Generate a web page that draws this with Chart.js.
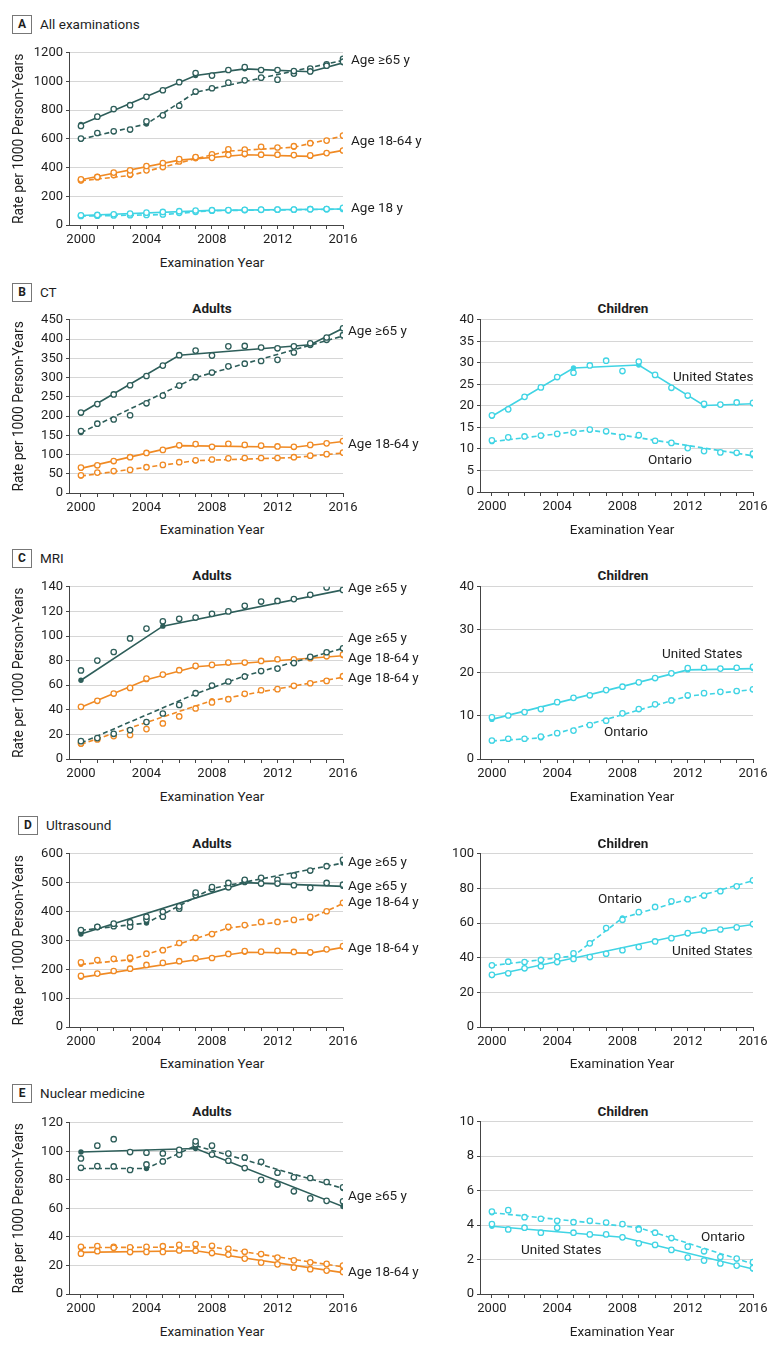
<!DOCTYPE html>
<html>
<head>
<meta charset="utf-8">
<script src="https://cdn.jsdelivr.net/npm/chart.js@4.4.0/dist/chart.umd.min.js"></script>
<style>
    body { margin: 0; background: #fff; }
    #page { position: relative; width: 780px; height: 1349px; overflow: hidden; font-family: Roboto, sans-serif; color: #1e1e1e; }
    #page canvas { position: absolute; }
    .txt { position: absolute; font-size: 13.5px; line-height: 16px; white-space: nowrap; transform: translateY(-50%); }
    .ctr { transform: translate(-50%, -50%); }
    .bold { font-weight: bold; }
    .box { position: absolute; width: 18px; height: 17px; border: 1px solid #777; font-weight: bold; font-size: 12px; line-height: 17px; text-align: center; }
</style>
</head>
<body>
<div id="page"></div>
<script>
// Yillar (x ekseni)
const years = [2000, 2001, 2002, 2003, 2004, 2005, 2006, 2007, 2008, 2009, 2010, 2011, 2012, 2013, 2014, 2015, 2016];

// --- A: All examinations ---
const aOldUs = [690, 755, 808, 835, 893, 939, 995, 1059, 1041, 1080, 1100, 1080, 1080, 1073, 1070, 1110, 1138];
const aOldOn = [602, 641, 653, 665, 722, 764, 831, 930, 953, 992, 1008, 1027, 1013, 1055, 1090, 1119, 1158];
const aOldUsFitX = [2000, 2007, 2010, 2014, 2016];
const aOldUsFit = [700, 1042, 1088, 1068, 1130];
const aOldOnFitX = [2000, 2004, 2007, 2016];
const aOldOnFit = [598, 704, 925, 1147];
const aAdultUs = [318, 335, 365, 381, 411, 432, 459, 473, 468, 489, 496, 490, 490, 487, 485, 501, 519];
const aAdultOn = [311, 333, 348, 353, 381, 404, 443, 470, 492, 528, 525, 545, 540, 549, 570, 588, 623];
const aAdultUsFitX = [2000, 2006, 2010, 2014, 2016];
const aAdultUsFit = [315, 452, 490, 478, 520];
const aAdultOnFitX = [2000, 2003, 2007, 2009, 2013, 2016];
const aAdultOnFit = [308, 345, 462, 515, 542, 620];
const aChildUs = [68, 70, 75, 80, 86, 91, 96, 101, 103, 104, 106, 107, 108, 108, 110, 111, 120];
const aChildOn = [63, 65, 67, 68, 70, 73, 85, 92, 100, 102, 104, 106, 107, 107, 110, 110, 112];
const aChildUsFitX = [2000, 2008, 2016];
const aChildUsFit = [66, 102, 112];
const aChildOnFitX = [2000, 2005, 2008, 2016];
const aChildOnFit = [62, 72, 100, 110];

// --- B: CT ---
const bOldUs = [209, 231, 256, 280, 304, 331, 358, 370, 357, 381, 382, 378, 376, 381, 389, 404, 428];
const bOldOn = [161, 180, 191, 202, 233, 253, 279, 301, 313, 329, 336, 343, 346, 365, 385, 398, 410];
const bOldUsFitX = [2000, 2006, 2014, 2016];
const bOldUsFit = [208, 358, 385, 428];
const bOldOnFitX = [2000, 2007, 2016];
const bOldOnFit = [157, 300, 408];
const bAdultUs = [66, 72, 83, 93, 104, 112, 124, 127, 120, 128, 125, 123, 121, 120, 125, 129, 135];
const bAdultOn = [46, 53, 57, 60, 67, 73, 80, 85, 87, 90, 91, 91, 91, 93, 97, 101, 105];
const bAdultUsFitX = [2000, 2006, 2013, 2016];
const bAdultUsFit = [64, 123, 119, 134];
const bAdultOnFitX = [2000, 2007, 2013, 2016];
const bAdultOnFit = [44, 84, 92, 104];
const bChildUs = [17.8, 19.2, 22.1, 24.3, 26.7, 27.7, 29.4, 30.5, 28.1, 30.3, 27.2, 24.2, 22.4, 20.5, 20.3, 20.8, 20.7];
const bChildOn = [12.0, 12.7, 12.9, 13.1, 13.5, 13.8, 14.5, 14.1, 12.8, 13.2, 11.9, 11.4, 10.2, 9.5, 9.2, 9.1, 8.9];
const bChildUsFitX = [2000, 2005, 2009, 2013, 2016];
const bChildUsFit = [17.6, 28.8, 29.5, 20.1, 20.5];
const bChildOnFitX = [2000, 2006, 2016];
const bChildOnFit = [11.7, 14.4, 8.4];

// --- C: MRI ---
const cOldUs = [72, 80, 87, 98, 106, 112, 114, 115, 118, 120, 124.5, 128, 128.5, 130, 133.5, 139.5, 137.5];
const cOldOn = [14.5, 17, 20.5, 23.5, 30, 37, 44, 53.5, 59.7, 63, 67, 71.5, 73.5, 78, 83, 86.8, 90];
const cOldUsFitX = [2000, 2005, 2016];
const cOldUsFit = [64, 108, 137.5];
const cOldOnFitX = [2000, 2007, 2010, 2016];
const cOldOnFit = [13, 53, 67.5, 90];
const cAdultUs = [42.4, 47.3, 53.2, 57.8, 65.4, 68.6, 72.2, 75.7, 76.5, 78.4, 78.4, 79.7, 81.1, 81, 81.9, 83.5, 84.9];
const cAdultOn = [12.7, 15.9, 18.6, 19.5, 24.3, 28.9, 34.6, 41.1, 46, 48.6, 53, 55.9, 56.8, 59.5, 61.6, 63.5, 67.3];
const cAdultUsFitX = [2000, 2004, 2007, 2016];
const cAdultUsFit = [42, 64.5, 75, 84];
const cAdultOnFitX = [2000, 2008, 2016];
const cAdultOnFit = [12, 47.5, 66.5];
const cChildUs = [9.7, 10.1, 10.9, 11.6, 13.2, 14.2, 14.8, 16.0, 16.8, 17.8, 18.8, 19.9, 21.1, 21.2, 21.0, 21.2, 21.4];
const cChildOn = [4.3, 4.7, 4.7, 5.2, 6.0, 6.6, 7.9, 8.9, 10.6, 11.6, 12.7, 13.6, 14.8, 15.3, 15.6, 15.8, 16.2];
const cChildUsFitX = [2000, 2012, 2016];
const cChildUsFit = [9.2, 20.7, 21];
const cChildOnFitX = [2000, 2003, 2012, 2016];
const cChildOnFit = [4.2, 4.9, 14.6, 16.1];

// --- D: Ultrasound ---
const dOldUs = [336, 347, 358, 363, 382, 399, 418, 466, 485, 499, 510, 497, 497, 491, 482, 499, 493];
const dOldOn = [333, 346, 349, 347, 372, 382, 410, 457, 478, 484, 505, 517, 510, 525, 542, 557, 579];
const dOldUsFitX = [2000, 2010, 2016];
const dOldUsFit = [322, 500, 487];
const dOldOnFitX = [2000, 2004, 2008, 2016];
const dOldOnFit = [335, 360, 480, 568];
const dAdultUs = [177, 185, 194, 202, 215, 222, 228, 238, 239, 253, 263, 261, 264, 260, 259, 269, 280];
const dAdultOn = [224, 232, 236, 240, 254, 266, 291, 309, 322, 347, 353, 364, 364, 371, 382, 401, 430];
const dAdultUsFitX = [2000, 2010, 2014, 2016];
const dAdultUsFit = [172, 259, 256, 276];
const dAdultOnFitX = [2000, 2003, 2009, 2014, 2016];
const dAdultOnFit = [217, 233, 343, 376, 428];
const dChildUs = [30.1, 31, 33.9, 35.1, 37.5, 39.3, 40.4, 42.3, 44.3, 46.2, 49.4, 51.3, 54.2, 55.7, 56.3, 57.5, 59.4];
const dChildOn = [35.6, 37.7, 37.5, 38.7, 40.8, 42.5, 48.3, 57.1, 61.9, 66.3, 69.3, 72.6, 73.8, 75.9, 78.4, 81.2, 84.7];
const dChildUsFitX = [2000, 2012, 2016];
const dChildUsFit = [29.7, 53.8, 59.2];
const dChildOnFitX = [2000, 2005, 2008, 2016];
const dChildOnFit = [35.5, 41, 63, 84.5];

// --- E: Nuclear medicine ---
const eOldUs = [95, 104, 108.5, 99.5, 99, 98.5, 101, 107, 97.7, 93.4, 88.3, 80, 76.7, 72, 67, 65.3, 65];
const eOldOn = [88.5, 89.6, 89.4, 86.9, 90.8, 92.9, 97.7, 105, 104, 98.4, 95.7, 92.7, 85, 81.8, 81.3, 78.5, 74.8];
const eOldUsFitX = [2000, 2007, 2016];
const eOldUsFit = [99.5, 102, 61.3];
const eOldOnFitX = [2000, 2004, 2007, 2016];
const eOldOnFit = [88, 88, 104, 74];
const eAdultUs = [28.3, 30, 32.4, 29.4, 29.5, 29.5, 30.5, 30.3, 28.7, 27.6, 24.8, 22, 20.8, 18.5, 17.4, 16.4, 15.5];
const eAdultOn = [33.1, 33.6, 33, 32.7, 33, 33.5, 34.5, 35, 33.8, 31.7, 29.6, 28, 25.5, 23.6, 22.2, 21.1, 19.9];
const eAdultUsFitX = [2000, 2007, 2016];
const eAdultUsFit = [29.2, 30.3, 15];
const eAdultOnFitX = [2000, 2008, 2016];
const eAdultOnFit = [32.5, 33, 19];
const eChildUs = [4.06, 3.75, 3.85, 3.56, 3.85, 3.56, 3.46, 3.46, 3.29, 2.94, 2.85, 2.56, 2.12, 1.94, 1.77, 1.65, 1.5];
const eChildOn = [4.79, 4.87, 4.46, 4.37, 4.25, 4.17, 4.25, 4.15, 4.06, 3.75, 3.56, 3.25, 2.75, 2.48, 2.15, 2.06, 1.85];
const eChildUsFitX = [2000, 2008, 2016];
const eChildUsFit = [3.93, 3.3, 1.45];
const eChildOnFitX = [2000, 2009, 2016];
const eChildOnFit = [4.72, 3.85, 1.75];

// Renkler
const TEAL = '#2e5e5a';
const ORANGE = '#f08a24';
const CYAN = '#40d4e4';

Chart.defaults.font.family = 'Roboto, sans-serif';
Chart.defaults.font.size = 13;
Chart.defaults.color = '#1e1e1e';

const page = document.getElementById('page');

/**
 * Gozlenen degerler: beyaz icli bos daireler
 */
function obsSet(values, color) {
    return {
        data: years.map((y, i) => ({ x: y, y: values[i] })),
        showLine: false,
        borderColor: color,
        backgroundColor: '#fff',
        pointRadius: 2.7,
        pointBorderWidth: 1.3,
        order: 0
    };
}

/**
 * Joinpoint egrisi (duz = ABD, kesikli = Ontario)
 */
function fitSet(xs, values, color, dashed) {
    return {
        data: xs.map((x, i) => ({ x: x, y: values[i] })),
        borderColor: color,
        backgroundColor: color,
        borderWidth: 1.6,
        borderDash: dashed ? [5, 3] : [],
        pointRadius: 2.7,
        pointBorderWidth: 0,
        pointBackgroundColor: color,
        tension: 0,
        order: 1
    };
}

function addText(text, x, y, cls) {
    const el = document.createElement('div');
    el.className = 'txt ' + (cls || '');
    el.style.left = x + 'px';
    el.style.top = y + 'px';
    el.textContent = text;
    page.appendChild(el);
}

function addHeader(letter, title, x, y) {
    const box = document.createElement('div');
    box.className = 'box';
    box.style.left = x + 'px';
    box.style.top = (y - 9) + 'px';
    box.textContent = letter;
    page.appendChild(box);
    addText(title, x + 28, y);
}

/**
 * Tek bir panel cizer. Cizim alani (chartArea) sayfa koordinatlarinda verilir.
 */
function makePanel(p) {
    const canvas = document.createElement('canvas');
    const padTop = 10;
    const xAxisH = 22;
    const cTop = p.top - padTop;
    const cHeight = padTop + (p.bottom - p.top) + xAxisH;
    canvas.style.left = p.left + 'px';
    canvas.style.top = cTop + 'px';
    canvas.width = p.width;
    canvas.height = cHeight;
    canvas.style.width = p.width + 'px';
    canvas.style.height = cHeight + 'px';
    page.appendChild(canvas);

    const yAxisW = p.chartLeft - p.left;

    new Chart(canvas, {
        type: 'line',
        data: { datasets: p.datasets },
        options: {
            responsive: false,
            animation: false,
            devicePixelRatio: 1,
            layout: { padding: { top: padTop, right: p.left + p.width - p.chartRight, left: 0, bottom: 0 } },
            plugins: { legend: { display: false }, tooltip: { enabled: false } },
            scales: {
                x: {
                    type: 'linear',
                    min: 1999.27,
                    max: 2016,
                    afterBuildTicks: (s) => { s.ticks = years.map(v => ({ value: v })); },
                    afterFit: (s) => { s.height = xAxisH; },
                    ticks: {
                        autoSkip: false,
                        maxRotation: 0,
                        padding: 3,
                        color: '#1e1e1e',
                        callback: (v) => ((v - 2000) % 4 === 0 ? String(v) : '')
                    },
                    grid: { drawOnChartArea: false, drawTicks: true, tickLength: 4, tickColor: '#444' },
                    border: { display: true, color: '#444', width: 1 }
                },
                y: {
                    min: 0,
                    max: p.yMax,
                    afterFit: (s) => { s.width = yAxisW; },
                    ticks: { stepSize: p.yStep, padding: 3, color: '#1e1e1e', callback: (v) => String(v) },
                    grid: { color: '#d6d6d6', lineWidth: 1, drawTicks: true, tickLength: 3, tickColor: '#444' },
                    border: { display: true, color: '#444', width: 1 },
                    title: {
                        display: !!p.yTitle,
                        text: 'Rate per 1000 Person-Years',
                        color: '#1e1e1e',
                        font: { size: 13.8 },
                        padding: { top: 11, bottom: 0 }
                    }
                }
            }
        }
    });
}

function adultPanel(top, bottom, yMax, yStep, datasets) {
    makePanel({ left: 0, width: 430, chartLeft: 69, chartRight: 343, top, bottom, yMax, yStep, yTitle: true, datasets });
}

function childPanel(top, bottom, yMax, yStep, datasets) {
    makePanel({ left: 420, width: 360, chartLeft: 480, chartRight: 753, top, bottom, yMax, yStep, yTitle: false, datasets });
}

// ---------- A ----------
addHeader('A', 'All examinations', 12, 24);
adultPanel(52, 225, 1200, 200, [
    fitSet(aOldUsFitX, aOldUsFit, TEAL, false),
    fitSet(aOldOnFitX, aOldOnFit, TEAL, true),
    fitSet(aAdultUsFitX, aAdultUsFit, ORANGE, false),
    fitSet(aAdultOnFitX, aAdultOnFit, ORANGE, true),
    fitSet(aChildUsFitX, aChildUsFit, CYAN, false),
    fitSet(aChildOnFitX, aChildOnFit, CYAN, true),
    obsSet(aOldUs, TEAL), obsSet(aOldOn, TEAL),
    obsSet(aAdultUs, ORANGE), obsSet(aAdultOn, ORANGE),
    obsSet(aChildUs, CYAN), obsSet(aChildOn, CYAN)
]);
addText('Age \u226565 y', 351, 59);
addText('Age 18-64 y', 351, 140);
addText('Age 18 y', 351, 207);
addText('Examination Year', 212, 262, 'ctr');

// ---------- B ----------
addHeader('B', 'CT', 12, 292);
addText('Adults', 212, 308, 'ctr bold');
addText('Children', 623, 308, 'ctr bold');
adultPanel(319, 493, 450, 50, [
    fitSet(bOldUsFitX, bOldUsFit, TEAL, false),
    fitSet(bOldOnFitX, bOldOnFit, TEAL, true),
    fitSet(bAdultUsFitX, bAdultUsFit, ORANGE, false),
    fitSet(bAdultOnFitX, bAdultOnFit, ORANGE, true),
    obsSet(bOldUs, TEAL), obsSet(bOldOn, TEAL),
    obsSet(bAdultUs, ORANGE), obsSet(bAdultOn, ORANGE)
]);
childPanel(319, 492, 40, 5, [
    fitSet(bChildUsFitX, bChildUsFit, CYAN, false),
    fitSet(bChildOnFitX, bChildOnFit, CYAN, true),
    obsSet(bChildUs, CYAN), obsSet(bChildOn, CYAN)
]);
addText('Age \u226565 y', 348, 330);
addText('Age 18-64 y', 348, 443);
addText('United States', 673, 376);
addText('Ontario', 648, 459);
addText('Examination Year', 212, 529, 'ctr');
addText('Examination Year', 622, 529, 'ctr');

// ---------- C ----------
addHeader('C', 'MRI', 12, 558);
addText('Adults', 212, 575, 'ctr bold');
addText('Children', 623, 575, 'ctr bold');
adultPanel(586, 759, 140, 20, [
    fitSet(cOldUsFitX, cOldUsFit, TEAL, false),
    fitSet(cOldOnFitX, cOldOnFit, TEAL, true),
    fitSet(cAdultUsFitX, cAdultUsFit, ORANGE, false),
    fitSet(cAdultOnFitX, cAdultOnFit, ORANGE, true),
    obsSet(cOldUs, TEAL), obsSet(cOldOn, TEAL),
    obsSet(cAdultUs, ORANGE), obsSet(cAdultOn, ORANGE)
]);
childPanel(586, 759, 40, 10, [
    fitSet(cChildUsFitX, cChildUsFit, CYAN, false),
    fitSet(cChildOnFitX, cChildOnFit, CYAN, true),
    obsSet(cChildUs, CYAN), obsSet(cChildOn, CYAN)
]);
addText('Age \u226565 y', 348, 587);
addText('Age \u226565 y', 348, 637);
addText('Age 18-64 y', 348, 657);
addText('Age 18-64 y', 348, 677);
addText('United States', 662, 653);
addText('Ontario', 604, 731);
addText('Examination Year', 212, 796, 'ctr');
addText('Examination Year', 622, 796, 'ctr');

// ---------- D ----------
addHeader('D', 'Ultrasound', 18, 825);
addText('Adults', 212, 843, 'ctr bold');
addText('Children', 623, 843, 'ctr bold');
adultPanel(853, 1027, 600, 100, [
    fitSet(dOldUsFitX, dOldUsFit, TEAL, false),
    fitSet(dOldOnFitX, dOldOnFit, TEAL, true),
    fitSet(dAdultUsFitX, dAdultUsFit, ORANGE, false),
    fitSet(dAdultOnFitX, dAdultOnFit, ORANGE, true),
    obsSet(dOldUs, TEAL), obsSet(dOldOn, TEAL),
    obsSet(dAdultUs, ORANGE), obsSet(dAdultOn, ORANGE)
]);
childPanel(853, 1027, 100, 20, [
    fitSet(dChildUsFitX, dChildUsFit, CYAN, false),
    fitSet(dChildOnFitX, dChildOnFit, CYAN, true),
    obsSet(dChildUs, CYAN), obsSet(dChildOn, CYAN)
]);
addText('Age \u226565 y', 348, 861);
addText('Age \u226565 y', 348, 885);
addText('Age 18-64 y', 348, 901);
addText('Age 18-64 y', 348, 947);
addText('Ontario', 598, 898);
addText('United States', 672, 950);
addText('Examination Year', 212, 1063, 'ctr');
addText('Examination Year', 622, 1063, 'ctr');

// ---------- E ----------
addHeader('E', 'Nuclear medicine', 12, 1093);
addText('Adults', 212, 1111, 'ctr bold');
addText('Children', 623, 1111, 'ctr bold');
adultPanel(1122, 1294, 120, 20, [
    fitSet(eOldUsFitX, eOldUsFit, TEAL, false),
    fitSet(eOldOnFitX, eOldOnFit, TEAL, true),
    fitSet(eAdultUsFitX, eAdultUsFit, ORANGE, false),
    fitSet(eAdultOnFitX, eAdultOnFit, ORANGE, true),
    obsSet(eOldUs, TEAL), obsSet(eOldOn, TEAL),
    obsSet(eAdultUs, ORANGE), obsSet(eAdultOn, ORANGE)
]);
childPanel(1121, 1294, 10, 2, [
    fitSet(eChildUsFitX, eChildUsFit, CYAN, false),
    fitSet(eChildOnFitX, eChildOnFit, CYAN, true),
    obsSet(eChildUs, CYAN), obsSet(eChildOn, CYAN)
]);
addText('Age \u226565 y', 348, 1195);
addText('Age 18-64 y', 348, 1271);
addText('Ontario', 701, 1236);
addText('United States', 521, 1249);
addText('Examination Year', 212, 1331, 'ctr');
addText('Examination Year', 622, 1331, 'ctr');
</script>
</body>
</html>
